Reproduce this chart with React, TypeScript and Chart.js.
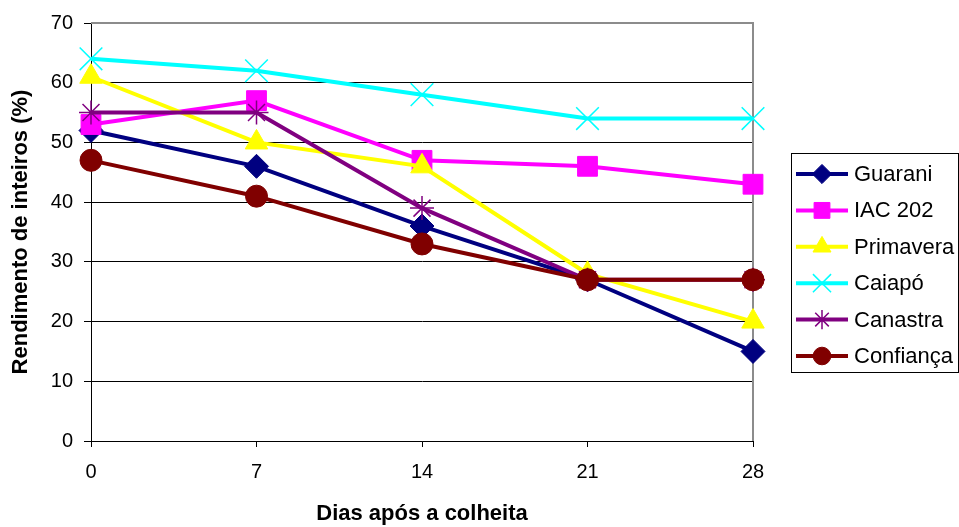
import React, { useEffect, useRef } from "react";
import { Chart, registerables } from "chart.js";
import { drawPoint } from "chart.js/helpers";

Chart.register(...registerables);

const days = ["0", "7", "14", "21", "28"];
const seriesNames = ["Guarani", "IAC 202", "Primavera", "Caiapó", "Canastra", "Confiança"];
const guarani = [52, 46, 36, 27, 15];
const iac202 = [53, 57, 47, 46, 43];
const primavera = [61, 50, 46, 28, 20];
const caiapo = [64, 62, 58, 54, 54];
const canastra = [55, 55, 39, 27, 27];
const confianca = [47, 41, 33, 27, 27];
const seriesValues = [guarani, iac202, primavera, caiapo, canastra, confianca];
const seriesColors = ["#000080", "#FF00FF", "#FFFF00", "#00FFFF", "#800080", "#800000"];
const seriesMarkers = ["rectRot", "rect", "triangle", "crossRot", "star", "circle"];
const markerRadius = [12, 14, 13, 16, 12, 11];
const markerBorder = [1, 1, 1, 1.5, 1.5, 1];

const yMin = 0;
const yMax = 70;
const yStep = 10;
const xTitle = "Dias após a colheita";
const yTitle = "Rendimento de inteiros (%)";

const FONT = "'Liberation Sans', Arial, sans-serif";

const plotBorder = {
  id: "plotBorder",
  beforeDatasetsDraw(chart: any) {
    const { ctx, chartArea: a } = chart;
    ctx.save();
    ctx.strokeStyle = "#8c8c8c";
    ctx.lineWidth = 2;
    ctx.beginPath();
    ctx.moveTo(a.left, a.top);
    ctx.lineTo(a.right, a.top);
    ctx.lineTo(a.right, a.bottom);
    ctx.stroke();
    ctx.restore();
  },
};

const boxLegend = {
  id: "boxLegend",
  afterDraw(chart: any) {
    const { ctx, chartArea: a } = chart;
    const w = 167;
    const h = 219;
    const left = a.right + 38;
    const top = Math.round((chart.height - h) / 2) - 1;
    ctx.save();
    ctx.fillStyle = "#fff";
    ctx.fillRect(left, top, w, h);
    ctx.strokeStyle = "#000";
    ctx.lineWidth = 1;
    ctx.strokeRect(left + 0.5, top + 0.5, w, h);
    const step = 36.4;
    const first = top + 21;
    chart.data.datasets.forEach((ds: any, i: number) => {
      const y = first + i * step;
      ctx.strokeStyle = ds.borderColor;
      ctx.lineWidth = 4;
      ctx.beginPath();
      ctx.moveTo(left + 5, y);
      ctx.lineTo(left + 57, y);
      ctx.stroke();
      ctx.strokeStyle = ds.pointBorderColor;
      ctx.fillStyle = ds.pointBackgroundColor;
      ctx.lineWidth = ds.pointBorderWidth;
      drawPoint(ctx, { pointStyle: ds.pointStyle, radius: ds.pointRadius * 0.8, borderWidth: ds.pointBorderWidth, rotation: 0 }, left + 31, y);
      ctx.fillStyle = "#000";
      ctx.font = `22px ${FONT}`;
      ctx.textBaseline = "middle";
      ctx.textAlign = "left";
      ctx.fillText(ds.label, left + 63, y + 1);
    });
    ctx.restore();
  },
};

export default function App() {
  const ref = useRef<HTMLCanvasElement>(null);
  useEffect(() => {
    document.body.style.margin = "0";
    const canvas = ref.current!;
    const chart = new Chart(canvas, {
      type: "line",
      data: {
        labels: days,
        datasets: seriesNames.map((name, i) => ({
          label: name,
          data: seriesValues[i],
          borderColor: seriesColors[i],
          backgroundColor: seriesColors[i],
          borderWidth: 4,
          pointStyle: seriesMarkers[i] as any,
          pointRadius: markerRadius[i],
          pointBorderWidth: markerBorder[i],
          pointBackgroundColor: seriesColors[i],
          pointBorderColor: seriesColors[i],
          tension: 0,
          fill: false,
          clip: false as any,
          order: seriesNames.length - i,
        })),
      },
      options: {
        animation: false,
        responsive: false,
        devicePixelRatio: 1,
        layout: { padding: { top: 20, right: 206, left: 0, bottom: 0 } },
        plugins: { legend: { display: false }, tooltip: { enabled: false } },
        scales: {
          x: {
            type: "category",
            offset: false,
            afterFit(scale: any) {
              scale.height = 86;
            },
            grid: { drawOnChartArea: false, drawTicks: true, tickLength: 6, color: "#000" },
            border: { color: "#000", width: 1 },
            ticks: { color: "#000", font: { family: FONT, size: 20 }, padding: 13, maxRotation: 0 },
            title: { display: true, text: xTitle, color: "#000", font: { family: FONT, size: 22, weight: "bold" }, padding: { top: 0, bottom: 0 } },
          },
          y: {
            min: yMin,
            max: yMax,
            afterFit(scale: any) {
              scale.width = 91;
            },
            ticks: { stepSize: yStep, color: "#000", font: { family: FONT, size: 20 }, padding: 11 },
            grid: { color: "#000", tickLength: 7, lineWidth: 1 },
            border: { color: "#000", width: 1 },
            title: { display: true, text: yTitle, color: "#000", font: { family: FONT, size: 22, weight: "bold" }, padding: { top: 8, bottom: 0 } },
          },
        },
      },
      plugins: [plotBorder, boxLegend],
    });
    return () => chart.destroy();
  }, []);
  return <canvas ref={ref} width={959} height={527} style={{ display: "block" }} />;
}
